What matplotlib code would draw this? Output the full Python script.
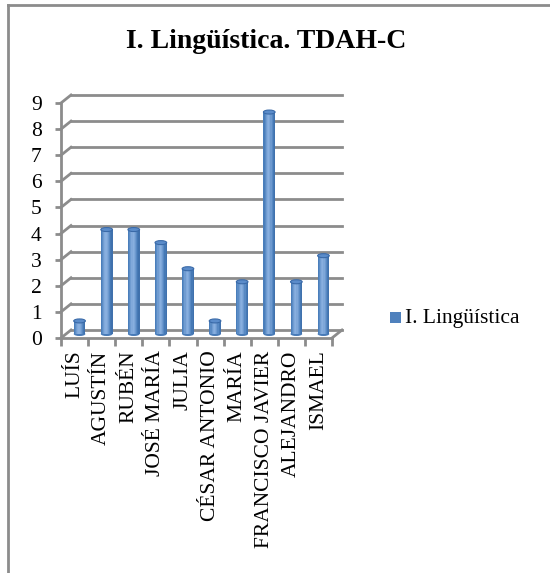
import matplotlib
matplotlib.use("Agg")
import matplotlib.pyplot as plt
import numpy as np
from matplotlib import font_manager as fm
from matplotlib.transforms import ScaledTranslation
from matplotlib.patches import Rectangle, Ellipse
from matplotlib.lines import Line2D
from matplotlib.colors import to_rgb

names = ["LUÍS", "AGUSTÍN", "RUBÉN", "JOSÉ MARÍA", "JULIA", "CÉSAR ANTONIO",
         "MARÍA", "FRANCISCO JAVIER", "ALEJANDRO", "ISMAEL"]
values = [0.5, 4, 4, 3.5, 2.5, 0.5, 2, 8.5, 2, 3]
yticks = list(range(0, 10))
title = "I. Lingüística. TDAH-C"
series_name = "I. Lingüística"

# locate a Times-like serif font
serif_name = "DejaVu Serif"
for f in fm.fontManager.ttflist:
    if f.name in ("Liberation Serif", "Tinos", "Times New Roman"):
        serif_name = f.name
        break

W, H, DPI = 550, 573, 100
plt.rcParams['font.family'] = [serif_name, 'DejaVu Serif']
plt.rcParams['mathtext.fontset'] = 'dejavuserif'
fig = plt.figure(figsize=(W / DPI, H / DPI), dpi=DPI)
fig.patch.set_facecolor("white")

x0, x1 = 61, 332
y0, y9 = 338, 103
ax = fig.add_axes([x0 / W, (H - y0) / H, (x1 - x0) / W, (y0 - y9) / H])
n = len(names)
ax.set_xlim(0, n)
ax.set_ylim(0, 9)
for s in ax.spines.values():
    s.set_visible(False)
ax.patch.set_visible(False)

grid_c = "#8c8c8c"
back = ax.transData + ScaledTranslation(10 / DPI, 8 / DPI, fig.dpi_scale_trans)
mid = ax.transData + ScaledTranslation(5 / DPI, 4 / DPI, fig.dpi_scale_trans)

for v in yticks:
    ax.plot([0, n], [v, v], color=grid_c, lw=2, transform=back, clip_on=False, zorder=1)
    p0 = ax.transData.transform((0, v))
    p1 = back.transform((0, v))
    fig.add_artist(Line2D([p0[0] / W, p1[0] / W], [p0[1] / H, p1[1] / H],
                          color=grid_c, lw=2, zorder=1))
ax.plot([0, n], [0, 0], color=grid_c, lw=2, clip_on=False, zorder=2)
p0 = ax.transData.transform((n, 0))
p1 = back.transform((n, 0))
fig.add_artist(Line2D([p0[0] / W, p1[0] / W], [p0[1] / H, p1[1] / H], color=grid_c, lw=2, zorder=1))
ax.plot([0, 0], [0, 9], color=grid_c, lw=2, clip_on=False, zorder=2)

bw = 0.43
profile = [0.0, 0.25, 0.55, 0.8, 0.9, 0.75, 0.5, 0.2, -0.15, -0.35]
base = np.array(to_rgb("#4a7ebb"))
light = np.array(to_rgb("#8fb4e3"))
dark = np.array(to_rgb("#2c5a94"))
def shade(t):
    return tuple(base + (light - base) * t) if t >= 0 else tuple(base + (dark - base) * (-t))

ppu_y = (y0 - y9) / 9.0
eh = 4.0 / ppu_y
for i, v in enumerate(values):
    cx = i + 0.5
    left = cx - bw / 2
    k = len(profile)
    sw = bw / k
    ax.add_patch(Ellipse((cx, 0), bw, eh, facecolor=shade(-0.1), edgecolor="none",
                         transform=mid, zorder=3, clip_on=False))
    for j, t in enumerate(profile):
        ax.add_patch(Rectangle((left + j * sw, 0), sw * 1.05, v, facecolor=shade(t),
                               edgecolor="none", transform=mid, zorder=4, clip_on=False))
    ax.add_patch(Ellipse((cx, v), bw, eh, facecolor="#5b8cca", edgecolor="#3a6aa8",
                         lw=0.8, transform=mid, zorder=5, clip_on=False))

ax.set_yticks(yticks)
ax.set_yticklabels([str(t) for t in yticks], fontsize=15.5)
ax.tick_params(axis="y", length=4, width=2, color=grid_c, pad=10)
ax.set_xticks(np.arange(n) + 0.5)
ax.set_xticklabels(names, rotation=90, fontsize=15.5, va="top", ha="center")
ax.tick_params(axis="x", which="major", length=0, pad=9)
ax.set_xticks(np.arange(n + 1), minor=True)
ax.tick_params(axis="x", which="minor", length=6, width=2, color=grid_c)

fig.text(266 / W, 1 - 42 / H, title, ha="center", va="center", fontsize=20,
         fontweight="bold")

fig.add_artist(Rectangle((390 / W, 1 - 323 / H), 11 / W, 11 / H, facecolor="#4f81bd",
                         edgecolor="none", transform=fig.transFigure))
fig.text(405 / W, 1 - 318 / H, series_name, ha="left", va="center", fontsize=15.5)

fig.add_artist(Line2D([8 / W, 8 / W], [0, 1 - 5 / H], color="#8c8c8c", lw=2))
fig.add_artist(Line2D([8 / W, 1], [1 - 5 / H, 1 - 5 / H], color="#8c8c8c", lw=2))

fig.savefig("out.png", dpi=DPI, facecolor="white")
